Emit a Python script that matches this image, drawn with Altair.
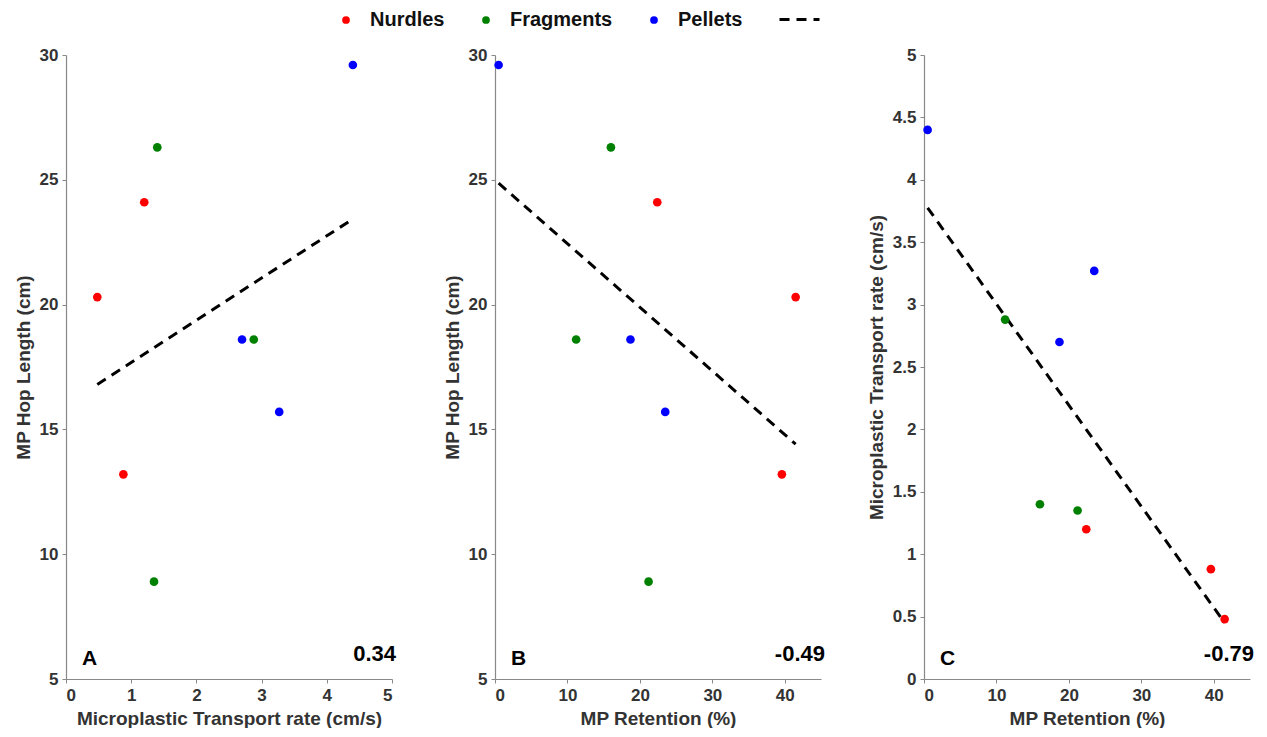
import altair as alt
import pandas as pd

# ---- data ----
particle_type = ["Nurdles", "Nurdles", "Nurdles",
                 "Fragments", "Fragments", "Fragments",
                 "Pellets", "Pellets", "Pellets"]
transport_rate = [0.48, 1.20, 0.88, 1.40, 2.88, 1.35, 4.40, 2.70, 3.27]   # cm/s
hop_length = [20.3, 24.1, 13.2, 26.3, 18.6, 8.9, 29.6, 18.6, 15.7]        # cm
retention = [41.5, 22.4, 39.6, 16.0, 11.2, 21.2, 0.5, 18.7, 23.5]         # %

categories = ["Nurdles", "Fragments", "Pellets"]
colors = ["#ff0000", "#008000", "#0000ff"]
panel_letters = ["A", "B", "C"]
corr_labels = ["0.34", "-0.49", "-0.79"]

hop_ticks = [5, 10, 15, 20, 25, 30]
rate_ticks_x = [0, 1, 2, 3, 4, 5]
ret_ticks = [0, 10, 20, 30, 40]
rate_ticks_y = [0, 0.5, 1, 1.5, 2, 2.5, 3, 3.5, 4, 4.5, 5]

df = pd.DataFrame({
    "type": particle_type,
    "rate": transport_rate,
    "hop": hop_length,
    "ret": retention,
})

W, H = 326, 624
FONT = "Liberation Sans"

color_enc = alt.Color(
    "type:N",
    scale=alt.Scale(domain=categories, range=colors),
    legend=alt.Legend(
        title=None, orient="none", direction="horizontal",
        legendX=270, legendY=-45, symbolType="circle", symbolSize=60,
        labelFontSize=20, labelFont=FONT, labelFontWeight="bold",
        labelColor="#111111", columnPadding=31, labelOffset=14,
        symbolStrokeWidth=0, labelLimit=200,
    ),
)

dash_enc = alt.StrokeDash(
    "fit:N",
    scale=alt.Scale(domain=[" "], range=[[10, 7]]),
    legend=alt.Legend(
        title=None, orient="none", direction="horizontal",
        legendX=712, legendY=-57, symbolType="stroke", symbolSize=1600,
        symbolStrokeColor="black", symbolStrokeWidth=3, symbolDash=[13, 11],
        labelFontSize=20, labelFont=FONT,
    ),
)


def panel(xf, yf, xtitle, ytitle, xdom, xticks, ydom, yticks, letter, corr):
    base = alt.Chart(df)
    xenc = alt.X(f"{xf}:Q", scale=alt.Scale(domain=xdom, nice=False, zero=False),
                 axis=alt.Axis(values=xticks, title=xtitle, format="~r"))
    yenc = alt.Y(f"{yf}:Q", scale=alt.Scale(domain=ydom, nice=False, zero=False),
                 axis=alt.Axis(values=yticks, title=ytitle, format="~r"))
    pts = base.mark_circle(size=75, opacity=1).encode(x=xenc, y=yenc, color=color_enc)
    fit = (base.transform_regression(xf, yf)
           .transform_calculate(fit="' '")
           .mark_line(color="black", strokeWidth=3)
           .encode(x=xenc, y=yenc, strokeDash=dash_enc))
    lt = alt.Chart(pd.DataFrame({"t": [letter]})).mark_text(
        align="left", baseline="alphabetic", fontSize=21, fontWeight="bold",
        font=FONT, color="black"
    ).encode(text="t:N", x=alt.value(16), y=alt.value(610))
    ct = alt.Chart(pd.DataFrame({"t": [corr]})).mark_text(
        align="right", baseline="alphabetic", fontSize=22, fontWeight="bold",
        font=FONT, color="black"
    ).encode(text="t:N", x=alt.value(330), y=alt.value(606))
    return alt.layer(fit, pts, lt, ct).properties(width=W, height=H)


pA = panel("rate", "hop", "Microplastic Transport rate (cm/s)", "MP Hop Length (cm)",
           [0, 5], rate_ticks_x, [5, 30], hop_ticks, panel_letters[0], corr_labels[0])
pB = panel("ret", "hop", "MP Retention (%)", "MP Hop Length (cm)",
           [0, 45], ret_ticks, [5, 30], hop_ticks, panel_letters[1], corr_labels[1])
pC = panel("ret", "rate", "MP Retention (%)", "Microplastic Transport rate (cm/s)",
           [0, 45], ret_ticks, [0, 5], rate_ticks_y, panel_letters[2], corr_labels[2])

chart = (
    alt.hconcat(alt.hconcat(pA, pB, spacing=47), pC, spacing=42)
    .resolve_scale(color="shared", strokeDash="shared")
    .configure_view(stroke=None)
    .configure_axis(
        grid=False, domainColor="#888888", tickColor="#888888", domainWidth=1.2,
        tickSize=4, labelFont=FONT, labelFontSize=17, labelFontWeight="bold",
        labelColor="#333333", titleFont=FONT, titleFontSize=19,
        titleFontWeight="bold", titleColor="#333333", labelPadding=4,
        titlePadding=6,
    )
    .properties(padding={"left": 6, "top": -10, "right": 5, "bottom": 0})
)

chart.save("out.html", embed_options={"renderer": "svg", "actions": False})
